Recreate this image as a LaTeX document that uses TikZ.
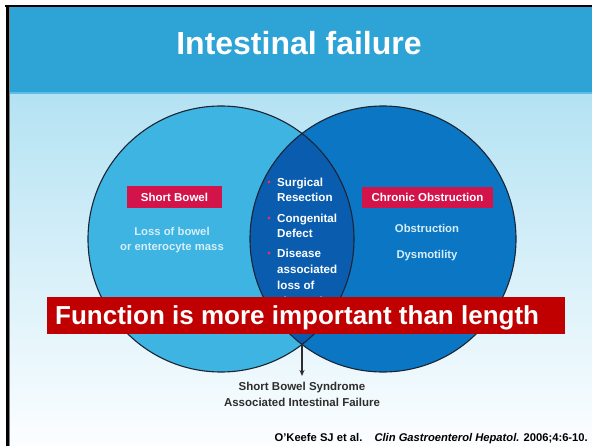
\documentclass[tikz,border=0pt]{standalone}
\usepackage{fontspec}
\setmainfont{Liberation Sans}
\usetikzlibrary{arrows.meta}

\definecolor{headblue}{HTML}{2EA3D6}
\definecolor{headedge}{HTML}{5CBDE6}
\definecolor{bodytop}{HTML}{B4E2F3}
\definecolor{bodymid}{HTML}{D9F0F9}
\definecolor{bodybot}{HTML}{FCFEFF}
\definecolor{leftblue}{HTML}{3DB4E1}
\definecolor{rightblue}{HTML}{0B76C4}
\definecolor{lensblue}{HTML}{0A5CAF}
\definecolor{tagred}{HTML}{D2144A}
\definecolor{bulletred}{HTML}{E8305A}
\definecolor{bannerred}{HTML}{C00000}
\definecolor{palefont}{HTML}{D6EEF8}
\definecolor{darkfont}{HTML}{2E2E2E}
\definecolor{rimline}{HTML}{1B2433}

\tikzset{
  tag/.style={fill=tagred, text=white, inner sep=0pt,
    font=\fontsize{11.5}{14}\selectfont\bfseries},
  pale/.style={text=palefont, inner sep=0pt, align=center,
    font=\fontsize{11.3}{15}\selectfont\bfseries},
  lens/.style={text=white, inner sep=0pt, align=left, anchor=north west,
    font=\fontsize{11.6}{15}\selectfont\bfseries},
  dot/.style={fill=bulletred, draw=none},
  rim/.style={draw=rimline, line width=1.1pt},
  outcome/.style={text=darkfont, inner sep=0pt, align=center,
    font=\fontsize{11.5}{16}\selectfont\bfseries},
}

\begin{document}
\begin{tikzpicture}[x=1pt,y=-1pt]
\useasboundingbox (0,0) rectangle (592,446);
\fill[white] (0,0) rectangle (592,446);

% slide body and header band
\shade[top color=bodytop, middle color=bodymid, bottom color=bodybot]
  (7,93) rectangle (592,446);
\fill[headblue] (7,6) rectangle (592,93);
\fill[headedge] (7,92) rectangle (592,94);
\fill[black] (5,5) rectangle (592,7);
\fill[black] (6,5) rectangle (8.5,446);
\fill[gray] (8.5,7) rectangle (9.3,446);

\node[text=white, inner sep=0pt, anchor=base,
  font=\fontsize{32}{38}\selectfont\bfseries] (title) at (299,55) {Intestinal failure};

% the two overlapping circles
\coordinate (L) at (221,239);
\coordinate (R) at (383,239);
\fill[leftblue] (L) circle[radius=133pt];
\fill[rightblue] (R) circle[radius=133pt];
\begin{scope}
  \clip (L) circle[radius=133pt];
  \fill[lensblue] (R) circle[radius=133pt];
\end{scope}
\draw[rim] (L) circle[radius=133pt];
\draw[rim] (R) circle[radius=133pt];
\coordinate (bot) at (302,345.5);

% left circle
\node[tag, minimum width=95pt, minimum height=22pt] (sb) at (174.5,197) {Short Bowel};
\node[pale, anchor=base] (loss1) at (172,236) {Loss of bowel};
\node[pale, anchor=base] (loss2) at (172,251) {or enterocyte mass};

% right circle
\node[tag, minimum width=131pt, minimum height=21pt] (co) at (427.5,197.5) {Chronic Obstruction};
\node[pale, anchor=base] (obs) at (427,233) {Obstruction};
\node[pale, anchor=base] (dys) at (427,259) {Dysmotility};

% overlap causes
\node[lens] (c1) at (277,177.5) {Surgical\\Resection};
\node[lens] (c2) at (277,213.5) {Congenital\\Defect};
\node[lens, font=\fontsize{11.6}{16}\selectfont\bfseries] (c3) at (277,248.5)
  {Disease\\associated\\loss of\\absorption};
\fill[dot] (269,182) circle[radius=1.7pt];
\fill[dot] (269,218) circle[radius=1.7pt];
\fill[dot] (269,253) circle[radius=1.7pt];

% outcome below the circles
\node[outcome, anchor=north] (sbs) at (302,382) {Short Bowel Syndrome\\Associated Intestinal Failure};
\draw[darkfont, line width=1.2pt, -{Stealth[length=6pt,width=5pt]}, shorten >=6pt] (bot) -- (sbs.north);

% banner across the circles
\node[fill=bannerred, anchor=north west, minimum width=518pt, minimum height=37pt,
  inner sep=0pt] (banner) at (47,297) {};
\node[text=white, inner sep=0pt, anchor=base west,
  font=\fontsize{26}{30}\selectfont\bfseries] (msg) at (55,325)
  {Function is more important than length};

% reference
\node[text=black, inner sep=0pt, anchor=base east,
  font=\fontsize{11.2}{13}\selectfont\bfseries] (ref) at (588,441)
  {O'Keefe SJ et al.\hspace{8pt} \itshape Clin Gastroenterol Hepatol.\upshape{} 2006;4:6-10.};
\end{tikzpicture}
\end{document}
